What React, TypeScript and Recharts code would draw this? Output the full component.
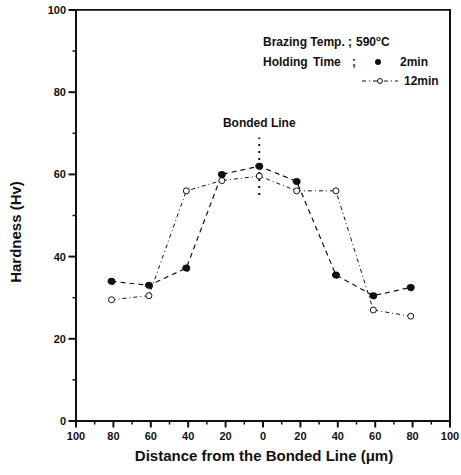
import React from 'react';
import {
  ComposedChart,
  Line,
  XAxis,
  YAxis,
  ReferenceLine,
  Customized,
} from 'recharts';

// distance from bonded line (um) and hardness (Hv)
const distance = [-81, -61, -41, -22, -2, 18, 39, 59, 79];
const hardness2min = [34, 33, 37.2, 60, 62, 58.3, 35.5, 30.5, 32.5];
const hardness12min = [29.5, 30.5, 56, 58.5, 59.6, 56, 56, 27, 25.5];

const xMajorTicks = [-100, -80, -60, -40, -20, 0, 20, 40, 60, 80, 100];
const xTickLabels = ['100', '80', '60', '40', '20', '0', '20', '40', '60', '80', '100'];
const xMinorTicks = [-90, -70, -50, -30, -10, 10, 30, 50, 70, 90];
const yMajorTicks = [0, 20, 40, 60, 80, 100];
const yMinorTicks = [10, 30, 50, 70, 90];

const bondedLineX = -2;
const bondedLineRange = [55, 69];

const FONT = '"Liberation Sans", Arial, sans-serif';
const INK = '#111';

const W = 461;
const H = 475;
const MARGIN = { top: 10, right: 11, left: 0, bottom: 0 };
const Y_AXIS_W = 76;
const X_AXIS_H = 54;

const data = distance.map((d, i) => ({
  d,
  h2: hardness2min[i],
  h12: hardness12min[i],
}));

const XTick = (props: any) => {
  const { x, y, payload } = props;
  const idx = xMajorTicks.indexOf(payload.value);
  if (idx < 0) {
    return <line x1={x} y1={y} x2={x} y2={y + 3.5} stroke={INK} strokeWidth={1.5} />;
  }
  return (
    <g>
      <line x1={x} y1={y} x2={x} y2={y + 6.5} stroke={INK} strokeWidth={2} />
      <text x={x} y={y + 19} textAnchor="middle" fontSize={11} fontWeight="bold" fontFamily={FONT} fill={INK}>
        {xTickLabels[idx]}
      </text>
    </g>
  );
};

const YTick = (props: any) => {
  const { x, y, payload } = props;
  if (!yMajorTicks.includes(payload.value)) {
    return <line x1={x} y1={y} x2={x - 3.5} y2={y} stroke={INK} strokeWidth={1.5} />;
  }
  return (
    <g>
      <line x1={x} y1={y} x2={x - 7.5} y2={y} stroke={INK} strokeWidth={2} />
      <text x={x - 10} y={y + 4} textAnchor="end" fontSize={11} fontWeight="bold" fontFamily={FONT} fill={INK}>
        {payload.value}
      </text>
    </g>
  );
};

const OpenDot = (props: any) => {
  const { cx, cy } = props;
  return <circle cx={cx} cy={cy} r={3} fill="#fff" stroke={INK} strokeWidth={1} />;
};

// axis titles and the legend box in the top right
const Annotations = () => (
  <g fontFamily={FONT} fontWeight="bold" fill={INK}>
    <text x={15} y={232} transform="rotate(-90 15 232)" textAnchor="middle" dominantBaseline="central" fontSize={15}>
      Hardness (Hv)
    </text>
    <text x={264} y={461} textAnchor="middle" fontSize={15}>
      Distance from the Bonded Line (μm)
    </text>
    <text y={46} fontSize={12}>
      <tspan x={263}>Brazing Temp.</tspan>
      <tspan x={348}>;</tspan>
      <tspan x={356}>590</tspan>
      <tspan dy={-5} fontSize={8}>o</tspan>
      <tspan dy={5}>C</tspan>
    </text>
    <text y={66} fontSize={12}>
      <tspan x={263}>Holding</tspan>
      <tspan x={313}>Time</tspan>
      <tspan x={352}>;</tspan>
      <tspan x={400}>2min</tspan>
    </text>
    <circle cx={378} cy={62} r={3} fill={INK} />
    <line x1={362} y1={81} x2={398} y2={81} stroke={INK} strokeWidth={1} strokeDasharray="4 3 1 3" />
    <circle cx={380} cy={81} r={2.5} fill="#fff" stroke={INK} strokeWidth={1} />
    <text x={404} y={85} fontSize={12}>12min</text>
  </g>
);

export default function App() {
  const plotLeft = MARGIN.left + Y_AXIS_W;
  const plotTop = MARGIN.top;
  const plotRight = W - MARGIN.right;
  const plotBottom = H - MARGIN.bottom - X_AXIS_H;
  return (
    <div style={{ position: 'absolute', left: 0, top: 0, width: W, height: H, background: '#fff' }}>
      <ComposedChart width={W} height={H} data={data} margin={MARGIN}>
        <XAxis
          dataKey="d"
          type="number"
          domain={[-100, 100]}
          ticks={[...xMajorTicks, ...xMinorTicks].sort((a, b) => a - b)}
          interval={0}
          height={X_AXIS_H}
          tickSize={0}
          tickMargin={0}
          tickLine={false}
          tick={<XTick />}
          axisLine={{ stroke: INK, strokeWidth: 2 }}
        />
        <YAxis
          type="number"
          domain={[0, 100]}
          ticks={[...yMajorTicks, ...yMinorTicks].sort((a, b) => a - b)}
          interval={0}
          width={Y_AXIS_W}
          tickSize={0}
          tickMargin={0}
          tickLine={false}
          tick={<YTick />}
          axisLine={{ stroke: INK, strokeWidth: 2 }}
        />
        <ReferenceLine y={100} stroke={INK} strokeWidth={1.5} ifOverflow="visible" />
        <ReferenceLine x={100} stroke={INK} strokeWidth={2} ifOverflow="visible" />
        <ReferenceLine
          segment={[
            { x: bondedLineX, y: bondedLineRange[0] },
            { x: bondedLineX, y: bondedLineRange[1] },
          ]}
          stroke={INK}
          strokeWidth={2}
          strokeDasharray="2 5"
          label={{
            value: 'Bonded Line',
            position: 'top',
            offset: 10,
            fontSize: 12,
            fontWeight: 'bold',
            fontFamily: FONT,
            fill: INK,
          }}
        />
        <Line
          dataKey="h12"
          stroke={INK}
          strokeWidth={1}
          strokeDasharray="4 3 1 3"
          dot={<OpenDot />}
          activeDot={false}
          isAnimationActive={false}
        />
        <Line
          dataKey="h2"
          stroke={INK}
          strokeWidth={1.2}
          strokeDasharray="5 4"
          dot={{ r: 3.5, fill: INK, stroke: INK, strokeWidth: 1 }}
          activeDot={false}
          isAnimationActive={false}
        />
        <Customized component={Annotations} />
      </ComposedChart>
      {/* plot frame as an html box over the plot area */}
      <div
        style={{
          position: 'absolute',
          left: plotLeft - 1,
          top: plotTop - 1,
          width: plotRight - plotLeft + 2,
          height: plotBottom - plotTop + 2,
          boxSizing: 'border-box',
          borderLeft: `2px solid ${INK}`,
          borderBottom: `2px solid ${INK}`,
          borderRight: `2px solid ${INK}`,
          borderTop: `1.5px solid ${INK}`,
          pointerEvents: 'none',
        }}
      />
    </div>
  );
}
